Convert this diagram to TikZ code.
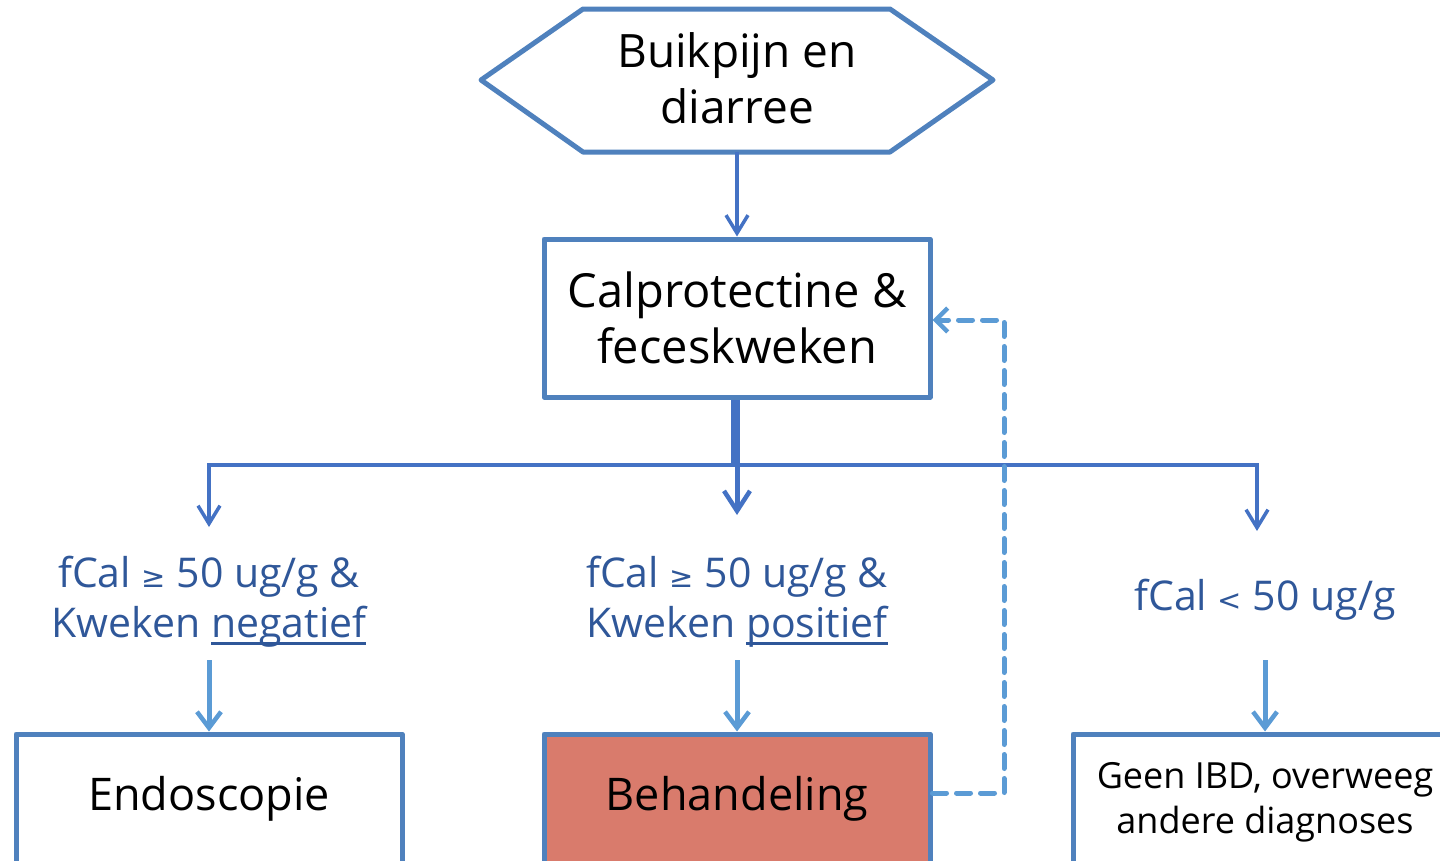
\documentclass[tikz,border=0pt]{standalone}
\usepackage{fontspec}
\setmainfont{Open Sans}
\newfontfamily\symfont{DejaVu Sans}
\usetikzlibrary{arrows.meta}
\definecolor{edgeblue}{RGB}{79,129,189}
\definecolor{connblue}{RGB}{68,114,196}
\definecolor{lightblue}{RGB}{91,155,213}
\definecolor{lblblue}{RGB}{47,87,153}
\definecolor{salmon}{RGB}{217,123,108}
\newcommand\myul[1]{\setbox0\hbox{#1}\rlap{\raisebox{-7pt}{\rule{\wd0}{2.5pt}}}\box0}
\tikzset{
  boxline/.style={draw=edgeblue,line width=5pt,line join=round},
  stepbox/.style={boxline,fill=white,minimum width=386pt,minimum height=158pt,inner sep=0pt,align=center,
    font=\fontsize{47}{56}\selectfont},
  lbl/.style={align=center,text=lblblue,font=\fontsize{41}{50}\selectfont,inner sep=0pt},
  conn/.style={draw=connblue,line width=3.5pt,-{Straight Barb[length=18pt,width=22pt,line width=3.5pt]}},
  bigconn/.style={draw=connblue,line width=5pt,-{Straight Barb[length=20pt,width=26pt,line width=4.5pt]}},
  lconn/.style={draw=lightblue,line width=5pt,-{Straight Barb[length=16pt,width=24pt,line width=4.5pt]}},
  dconn/.style={draw=lightblue,line width=5pt,dash pattern=on 14pt off 10pt,line cap=round,
    -{Straight Barb[length=12pt,width=24pt,line width=4.5pt]}}
}
\begin{document}
\begin{tikzpicture}[x=1pt,y=-1pt]
\useasboundingbox (0,0) rectangle (1440,860);
\clip (0,0) rectangle (1440,860);
% start hexagon
\draw[boxline,fill=white] (583,9) -- (890,9) -- (993,80) -- (890,152) -- (583,152) -- (481,80) -- cycle;
\node[align=center,inner sep=0pt,font=\fontsize{46}{56}\selectfont] (start) at (737,78) {Buikpijn en\\diarree};
\coordinate (startb) at (737,152);
% boxes
\node[stepbox] (calp) at (737,318) {Calprotectine \&\\feceskweken};
\node[stepbox,minimum height=130pt,font=\fontsize{45}{54}\selectfont] (endo) at (209,799) {Endoscopie};
\node[stepbox,minimum height=130pt,fill=salmon,font=\fontsize{45}{54}\selectfont] (behan) at (737,799) {Behandeling};
\node[stepbox,minimum width=384pt,minimum height=130pt] (geen) at (1265,799) {};
\node[align=center,inner sep=0pt,font=\fontsize{36}{45}\selectfont] (geentext) at (1265,802) {Geen IBD, overweeg\\andere diagnoses};
% labels
\node[lbl] (neg) at (209,602) {fCal {\symfont\fontsize{29}{29}\selectfont ≥} 50 ug/g \&\\Kweken \myul{negatief}};
\node[lbl] (pos) at (737,602) {fCal {\symfont\fontsize{29}{29}\selectfont ≥} 50 ug/g \&\\Kweken \myul{positief}};
\node[lbl] (low) at (1265,600) {fCal {\symfont\fontsize{29}{29}\selectfont <} 50 ug/g};
% connectors
\draw[conn] (startb) -- (calp.north);
\coordinate (jl) at (209,465);
\coordinate (jr) at (1257,465);
\coordinate (jm) at (733,465);
\draw[draw=connblue,line width=3.5pt] (calp.south -| jm) -- (jm);
\draw[conn] (jm) -- (jl) -- (209,527);
\draw[conn] (jm) -- (jr) -- (1257,531);
\draw[bigconn] (calp.south) -- (737,515);
\draw[lconn] (209,660) -- (endo.north);
\draw[lconn] (737,660) -- (behan.north);
\draw[lconn] (1265,660) -- (geen.north);
\draw[dconn] (behan.east |- 0,793) -- (1004,793) -- (1004,320) -- (calp.east |- 0,320);
\end{tikzpicture}
\end{document}
